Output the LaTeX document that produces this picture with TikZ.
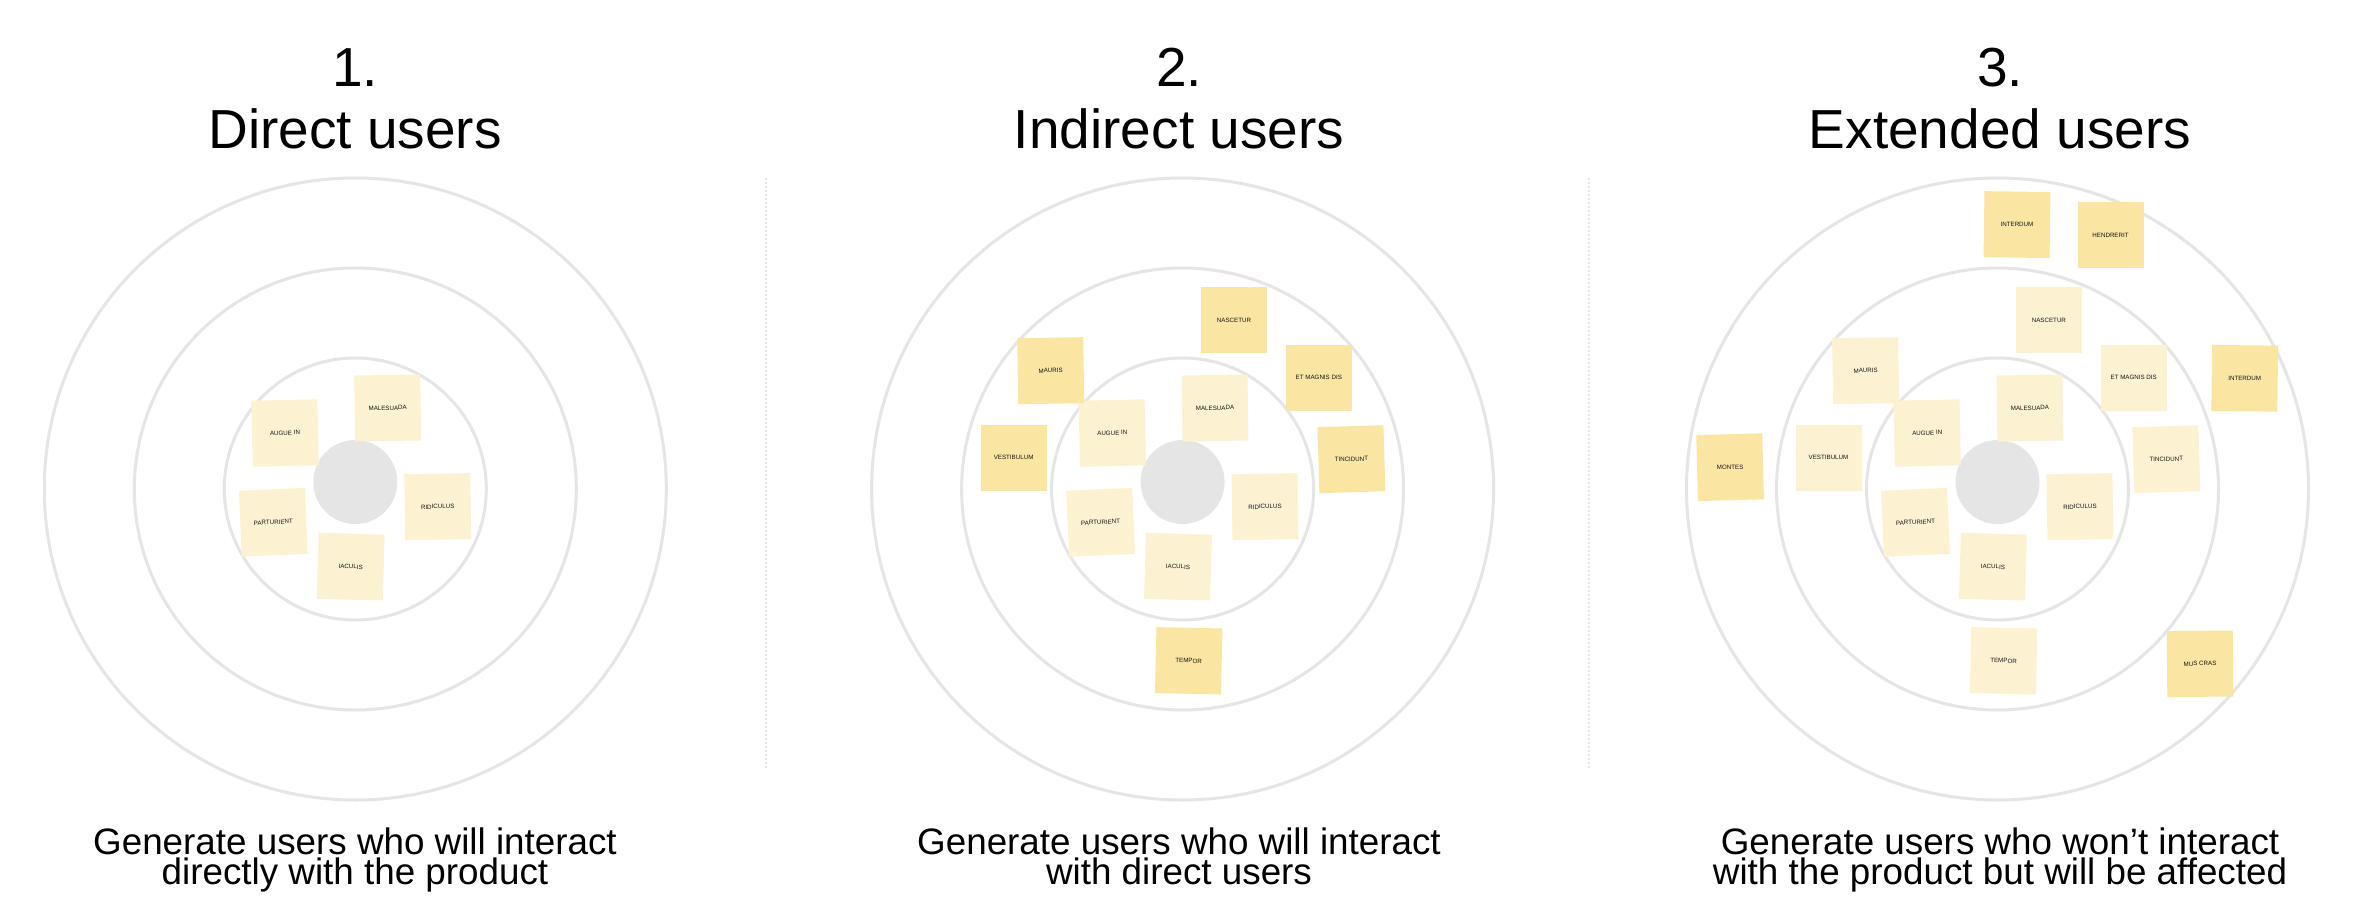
\documentclass[tikz,border=0pt]{standalone}
\usepackage{fontspec}
\setmainfont{Liberation Sans}
\definecolor{ringgray}{RGB}{229,229,229}
\definecolor{palenote}{RGB}{252,242,209}
\definecolor{deepnote}{RGB}{250,229,163}
\definecolor{notetext}{RGB}{20,20,20}
\tikzset{
  ring/.style={draw=ringgray,line width=3pt},
  hub/.style={circle,fill=ringgray,minimum size=84pt,inner sep=0pt},
  sticky/.style={minimum width=66pt,minimum height=66pt,inner sep=0pt,text=notetext,font=\fontsize{6.2}{7}\selectfont},
  pale/.style={sticky,fill=palenote},
  deep/.style={sticky,fill=deepnote},
  heading/.style={font=\fontsize{55}{62}\selectfont,anchor=base},
  caption/.style={font=\fontsize{36.8}{30}\selectfont,anchor=base},
  divider/.style={draw=ringgray,line width=1.5pt,dash pattern=on 2pt off 2pt}
}
\begin{document}
\begin{tikzpicture}[x=1pt,y=-1pt]
\useasboundingbox[fill=white] (0,0) rectangle (2366,912);
\draw[divider] (766,178) -- (766,770);
\draw[divider] (1589,178) -- (1589,770);
\foreach \p/\cx in {1/355.3,2/1182.6,3/1997.5}{
  \foreach \r in {131,221,311} \draw[ring] (\cx,489) circle[radius=\r pt];
  \node[hub] (hub\p) at (\cx,482) {};
  \foreach \n/\dx/\y/\a/\t in {augue/-70.3/433/1.2/AUGUE IN, malesuada/32.4/408/0.9/MALESUADA, ridiculus/82.4/506.7/0.9/RIDICULUS, parturient/-82/522.3/2.4/PARTURIENT, iaculis/-4.6/566.7/-1.7/IACULIS}
    \node[pale,rotate=\a] (\n\p) at (\cx+\dx,\y) {\t};
}
\foreach \p/\cx/\s in {2/1182.6/deepnote,3/1997.5/palenote}
  \foreach \n/\dx/\y/\a/\t in {nascetur/51.4/320/0/NASCETUR, mauris/-131.9/370.7/0.9/MAURIS, magnis/136.2/377.8/0/ET MAGNIS DIS, vestibulum/-169/457.8/0/VESTIBULUM, tincidunt/168.8/459.2/1.7/TINCIDUNT, tempor/6.1/660.8/-1.2/TEMPOR}
    \node[sticky,fill=\s,rotate=\a] (\n\p) at (\cx+\dx,\y) {\t};
\node[deep,rotate=-0.8] (interdumA) at (2017,224.6) {INTERDUM};
\node[deep] (hendrerit) at (2110.5,234.9) {HENDRERIT};
\node[deep,rotate=-0.6] (interdumB) at (2244.7,378.3) {INTERDUM};
\node[deep,rotate=1.5] (montes) at (1730.1,467.2) {MONTES};
\node[deep,rotate=0.5] (muscras) at (2200,663.8) {MUS CRAS};
\foreach \p/\tx/\num/\name/\la/\lb in {
  1/355/1./Direct users/Generate users who will interact/directly with the product,
  2/1179/2./Indirect users/Generate users who will interact/with direct users,
  3/2000/3./Extended users/Generate users who won’t interact/with the product but will be affected}{
  \node[heading] (num\p) at (\tx,87) {\num};
  \node[heading] (title\p) at (\tx,149) {\name};
  \node[caption] (capA\p) at (\tx,854) {\la};
  \node[caption] (capB\p) at (\tx,884) {\lb};
}
\end{tikzpicture}
\end{document}
